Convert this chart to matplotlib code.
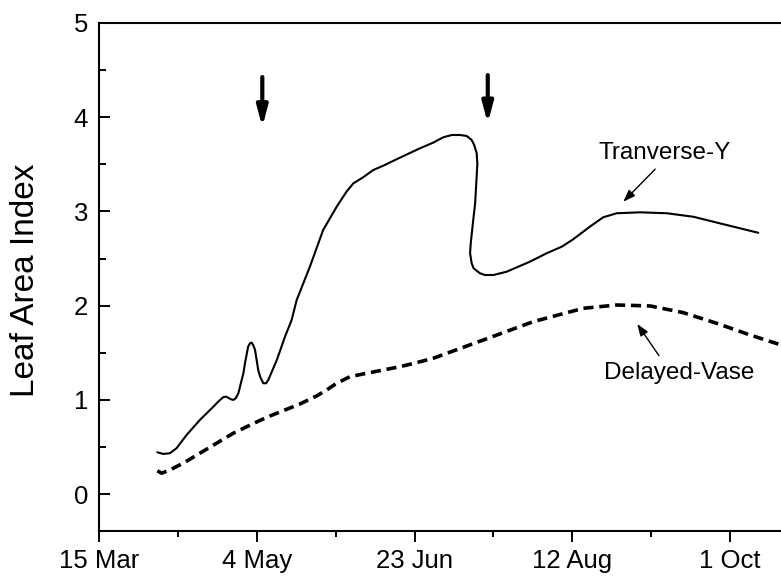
import matplotlib
matplotlib.use("Agg")
import matplotlib.pyplot as plt
from matplotlib.ticker import MultipleLocator

plt.rcParams['font.family'] = ['Liberation Sans', 'DejaVu Sans']

# Days after 15 March
tick_days = [0, 50, 100, 150, 200]
tick_labels = ["15 Mar", "4 May", "23 Jun", "12 Aug", "1 Oct"]

# Tranverse-Y (solid), in drawing order
ty_day = [18.4, 20.3, 22.4, 24.5, 27.7, 31.9, 36.2, 37.7, 39.3, 40.2, 41.8, 42.5,
          43.3, 44.1, 45.7, 46.2, 47.2, 47.8, 48.3, 48.8, 49.4, 49.9, 50.4, 51.0,
          52.0, 52.9, 53.6, 56.3, 58.9, 61.0, 62.6, 66.8, 71.0, 75.3, 78.4, 80.6,
          83.7, 86.9, 90.1, 94.3, 101.7, 105.9, 109.1, 111.8, 114.4, 116.5, 118.1,
          118.9, 119.7, 119.9, 119.5, 119.2, 118.6, 117.8, 117.6, 118.1, 118.7,
          120.7, 122.3, 125.0, 129.2, 136.6, 141.9, 146.7, 150.3, 155.6, 159.8,
          164.1, 171.5, 180.0, 188.4, 199.0, 209.0]
ty_lai = [0.445, 0.427, 0.435, 0.488, 0.629, 0.788, 0.929, 0.982, 1.029, 1.035,
          1.007, 1.000, 1.018, 1.071, 1.283, 1.389, 1.565, 1.601, 1.608, 1.583,
          1.530, 1.424, 1.318, 1.247, 1.177, 1.177, 1.212, 1.424, 1.671, 1.848,
          2.060, 2.414, 2.803, 3.050, 3.209, 3.298, 3.362, 3.439, 3.485, 3.553,
          3.669, 3.729, 3.786, 3.810, 3.810, 3.800, 3.757, 3.704, 3.616, 3.500,
          3.262, 3.086, 2.909, 2.662, 2.556, 2.450, 2.397, 2.344, 2.325, 2.325,
          2.360, 2.467, 2.556, 2.626, 2.704, 2.838, 2.937, 2.980, 2.990, 2.980,
          2.943, 2.855, 2.773]

# Delayed-Vase (dashed)
dv_day = [18.4, 19.8, 22.4, 26.6, 31.9, 37.2, 42.5, 47.8, 53.1, 58.4, 63.7, 68.9,
          72.1, 75.3, 79.5, 84.8, 90.1, 95.4, 100.7, 105.9, 121.8, 137.6, 153.5,
          164.1, 174.7, 185.2, 195.8, 206.4, 217.0]
dv_lai = [0.248, 0.223, 0.258, 0.329, 0.435, 0.541, 0.647, 0.733, 0.816, 0.887,
          0.958, 1.042, 1.106, 1.177, 1.247, 1.283, 1.318, 1.353, 1.396, 1.442,
          1.636, 1.830, 1.972, 2.007, 1.997, 1.926, 1.813, 1.689, 1.575]

fig = plt.figure(figsize=(7.81, 5.78), dpi=100)
ax = fig.add_axes([99.3 / 781, 1 - 531 / 578, (781 - 99.3) / 781, (531 - 22.8) / 578])

ax.plot(ty_day, ty_lai, color='black', lw=1.5, solid_joinstyle='round',
        solid_capstyle='round', antialiased=True)
ax.plot(dv_day, dv_lai, color='black', lw=2.6, dashes=(2.8, 1.6))

ax.set_xlim(0, (781 - 99.3) / 3.153)
ax.set_ylim(-0.39, 5)

ax.set_xticks(tick_days)
ax.set_xticklabels(tick_labels)
ax.xaxis.set_minor_locator(MultipleLocator(25))
ax.set_yticks([0, 1, 2, 3, 4, 5])
ax.yaxis.set_minor_locator(MultipleLocator(0.5))

ax.tick_params(axis='x', which='major', direction='out', length=8, width=1.4,
               labelsize=18.5, pad=5)
ax.tick_params(axis='x', which='minor', direction='out', length=4.5, width=1.4)
ax.tick_params(axis='y', which='major', direction='in', length=8, width=1.4,
               labelsize=18.5, pad=8)
ax.tick_params(axis='y', which='minor', direction='in', length=5, width=1.4)

for s in ['left', 'bottom', 'top']:
    ax.spines[s].set_linewidth(1.5)
ax.spines['right'].set_visible(False)

fig.text(25.5 / 781, 1 - 280.5 / 578, "Leaf Area Index", rotation=90,
         ha='center', va='center', fontsize=24)

# Thick down arrows
big = dict(arrowstyle='-|>,head_length=0.6,head_width=0.16', lw=3, color='black',
           mutation_scale=20, shrinkA=0, shrinkB=0)
ax.annotate('', xy=(51.7, 3.895), xytext=(51.7, 4.425), arrowprops=big)
ax.annotate('', xy=(123.2, 3.934), xytext=(123.2, 4.446), arrowprops=big)

small = dict(arrowstyle='-|>,head_length=0.6,head_width=0.22', lw=1, color='black',
             mutation_scale=12, shrinkA=0, shrinkB=0)
ax.annotate('', xy=(166.2, 3.103), xytext=(176.3, 3.448), arrowprops=small)
ax.text(179.3, 3.552, "Tranverse-Y", ha='center', va='baseline', fontsize=17.5)
ax.annotate('', xy=(170.6, 1.806), xytext=(177.5, 1.470), arrowprops=small)
ax.text(183.8, 1.22, "Delayed-Vase", ha='center', va='baseline', fontsize=17.5)

fig.savefig("out.png", dpi=100)
